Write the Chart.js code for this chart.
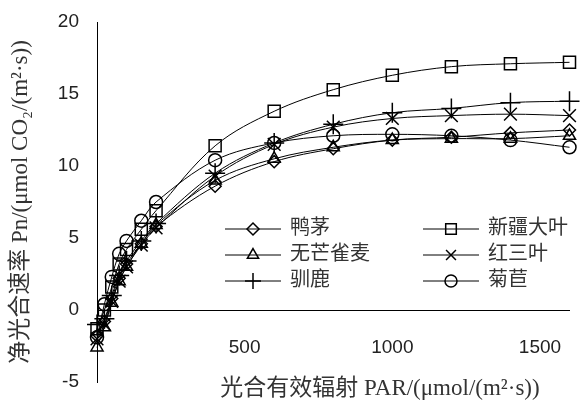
<!DOCTYPE html>
<html>
<head>
<meta charset="utf-8">
<script src="https://cdn.jsdelivr.net/npm/chart.js@4"></script>
<style>
html, body { margin: 0; padding: 0; background: #fff; }
#wrap { width: 581px; height: 405px; }
</style>
</head>
<body>
<div id="wrap"><canvas id="myChart"></canvas></div>
<script>
// PAR levels (µmol/(m²·s))
const par = [0, 25, 50, 75, 100, 150, 200, 400, 600, 800, 1000, 1200, 1400, 1600];

// net photosynthetic rate per species
const yamao     = [-1.8, -0.8, 0.8, 2.2, 3.2, 4.6, 5.8, 8.6, 10.3, 11.2, 11.8, 12.0, 12.3, 12.5];
const xinjiang  = [-1.3, 0.0, 1.6, 3.2, 4.2, 5.6, 6.9, 11.4, 13.8, 15.3, 16.3, 16.9, 17.1, 17.2];
const wumang    = [-2.6, -1.2, 0.5, 2.0, 3.0, 4.6, 5.9, 9.0, 10.5, 11.3, 11.8, 11.9, 11.9, 12.1];
const hongsanye = [-2.0, -1.0, 0.6, 2.0, 3.0, 4.5, 5.7, 9.3, 11.5, 12.7, 13.3, 13.5, 13.6, 13.5];
const xunlu     = [-1.0, -0.6, 1.0, 2.4, 3.4, 4.8, 6.0, 9.5, 11.6, 12.9, 13.7, 14.0, 14.4, 14.5];
const jugu      = [-1.9, 0.4, 2.3, 3.9, 4.8, 6.2, 7.5, 10.4, 11.6, 12.1, 12.2, 12.1, 11.8, 11.3];

const names = ['鸭茅', '新疆大叶', '无芒雀麦', '红三叶', '驯鹿', '菊苣'];
const series = [yamao, xinjiang, wumang, hongsanye, xunlu, jugu];
const styles = ['rectRot', 'rect', 'triangle', 'crossRot', 'cross', 'circle'];
const radii = [6, 8.5, 7, 9, 10, 6.5];
const legendRadii = [6, 7.5, 6.5, 7, 8, 6];

// axis ticks
const xTicks = [500, 1000, 1500];
const yMin = -5, yMax = 20, yStep = 5;
const xMin = 0, xMax = 1600;

const ctx = document.getElementById('myChart');

const datasets = series.map((vals, i) => ({
    label: names[i],
    data: par.map((x, j) => ({ x: x, y: vals[j] })),
    borderColor: '#000',
    borderWidth: 1,
    backgroundColor: 'rgba(0,0,0,0)',
    pointStyle: styles[i],
    pointRadius: radii[i],
    pointBorderColor: '#000',
    pointBackgroundColor: 'rgba(0,0,0,0)',
    pointBorderWidth: 1.5,
    tension: 0.35,
    clip: false
}));

const serifCJK = '"Liberation Serif", "Noto Sans CJK SC", serif';

// legend inside the plot + x axis title
const extras = {
    id: 'extras',
    afterDraw(chart) {
        const c = chart.ctx;
        c.save();
        c.fillStyle = '#333';
        c.font = '23px ' + serifCJK;
        c.textAlign = 'center';
        c.textBaseline = 'middle';
        c.fillText('光合有效辐射 PAR/(μmol/(m²·s))', 380, 389);

        const left = 225, colGap = 198, top = 229, rowGap = 26, lineLen = 56;
        chart.data.datasets.forEach((ds, i) => {
            const col = i % 2, row = Math.floor(i / 2);
            const x0 = left + col * colGap;
            const y = top + row * rowGap;
            c.strokeStyle = '#000';
            c.lineWidth = 1;
            c.beginPath();
            c.moveTo(x0, y);
            c.lineTo(x0 + lineLen, y);
            c.stroke();
            c.lineWidth = 1.5;
            c.fillStyle = 'rgba(0,0,0,0)';
            Chart.helpers.drawPoint(c, {
                pointStyle: ds.pointStyle, rotation: 0,
                radius: legendRadii[i], borderWidth: 1.5
            }, x0 + lineLen / 2, y);
            c.fillStyle = '#333';
            c.font = '20px ' + serifCJK;
            c.textAlign = 'left';
            c.fillText(ds.label, x0 + lineLen + 9, y);
        });
        c.restore();
    }
};

new Chart(ctx, {
    type: 'line',
    data: { datasets: datasets },
    plugins: [extras],
    options: {
        responsive: true,
        maintainAspectRatio: false,
        animation: false,
        layout: { padding: { top: 22, right: 10, bottom: 23, left: 0 } },
        plugins: {
            legend: { display: false },
            tooltip: { enabled: false }
        },
        scales: {
            x: {
                type: 'linear',
                position: { y: 0 },
                min: xMin,
                max: xMax,
                afterBuildTicks: s => { s.ticks = xTicks.map(v => ({ value: v })); },
                afterFit: s => { s.paddingLeft = 0; s.paddingRight = 0; },
                grid: { display: false, drawTicks: false },
                border: { display: true, color: '#000', width: 1 },
                ticks: {
                    autoSkip: false,
                    maxRotation: 0,
                    padding: 26,
                    color: '#222',
                    font: { family: '"Liberation Sans", Arial', size: 19 },
                    callback: v => String(v)
                }
            },
            y: {
                min: yMin,
                max: yMax,
                afterFit: s => { s.width = 97; s.paddingTop = 0; s.paddingBottom = 0; },
                grid: { display: false, drawTicks: false },
                border: { display: true, color: '#000', width: 1 },
                ticks: {
                    stepSize: yStep,
                    padding: 18,
                    color: '#222',
                    font: { family: '"Liberation Sans", Arial', size: 19 }
                },
                title: {
                    display: true,
                    text: '净光合速率 Pn/(μmol CO₂/(m²·s))',
                    color: '#333',
                    padding: { top: 7, bottom: 0 },
                    font: { family: serifCJK, size: 23 }
                }
            }
        }
    }
});
</script>
</body>
</html>
